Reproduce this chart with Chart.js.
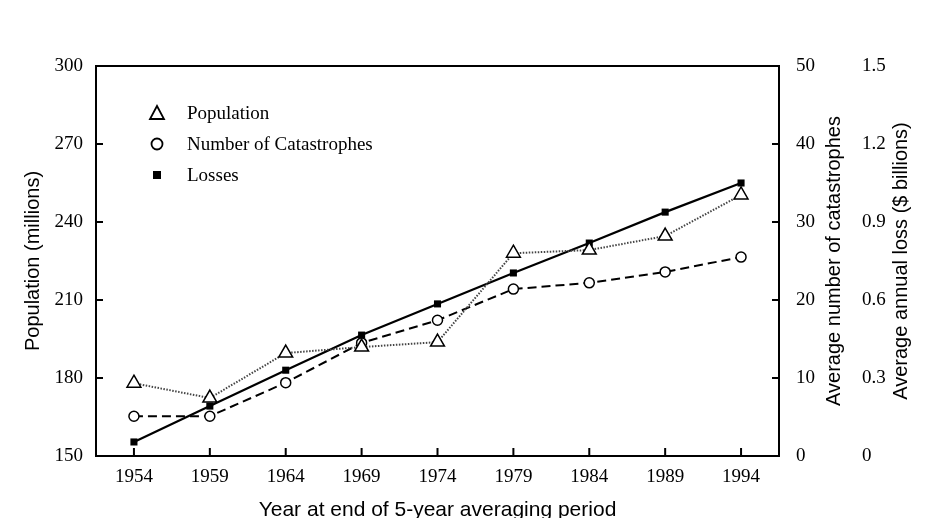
<!DOCTYPE html>
<html lang="en">
<head>
    <meta charset="UTF-8">
    <title>Population, catastrophes and losses</title>
    <style>
        body { margin: 0; background: #fff; }
        #wrap { width: 925px; height: 518px; }
    </style>
</head>
<body>
    <div id="wrap">
        <canvas id="myChart" width="925" height="518"></canvas>
    </div>
    <script src="https://cdn.jsdelivr.net/npm/chart.js@4.4.0/dist/chart.umd.min.js"></script>
    <script>
        // dados
        const anos = ['1954', '1959', '1964', '1969', '1974', '1979', '1984', '1989', '1994'];
        const populacao = [178, 172.3, 189.6, 191.9, 193.8, 228, 229.2, 234.6, 250.4];
        const catastrofes = [5.1, 5.1, 9.4, 14.5, 17.4, 21.4, 22.2, 23.6, 25.5];
        const perdas = [0.054, 0.192, 0.33, 0.465, 0.585, 0.704, 0.819, 0.938, 1.05];

        const legendaNomes = ['Population', 'Number of Catastrophes', 'Losses'];

        const SERIF = "'Liberation Serif', 'Times New Roman', serif";
        const SANS = "'Liberation Sans', Arial, sans-serif";

        // moldura, marcas de escala internas, títulos da direita e legenda
        const extras = {
            id: 'extras',
            afterDraw(chart) {
                const ctx = chart.ctx;
                const a = chart.chartArea;
                const sx = chart.scales.x, sy = chart.scales.y, sy2 = chart.scales.y2;

                ctx.save();
                ctx.strokeStyle = '#000';
                ctx.lineWidth = 2;
                ctx.strokeRect(a.left, a.top, a.right - a.left, a.bottom - a.top);

                ctx.beginPath();
                for (let i = 0; i < sx.ticks.length; i++) {
                    const px = sx.getPixelForTick(i);
                    ctx.moveTo(px, a.bottom);
                    ctx.lineTo(px, a.bottom - 8);
                }
                for (let i = 0; i < sy.ticks.length; i++) {
                    const py = sy.getPixelForTick(i);
                    ctx.moveTo(a.left, py);
                    ctx.lineTo(a.left + 7, py);
                }
                for (let i = 0; i < sy2.ticks.length; i++) {
                    const py = sy2.getPixelForTick(i);
                    ctx.moveTo(a.right, py);
                    ctx.lineTo(a.right - 7, py);
                }
                ctx.stroke();

                // títulos dos eixos da direita (lidos de baixo para cima)
                const meioY = (a.top + a.bottom) / 2;
                ctx.fillStyle = '#000';
                ctx.font = '20px ' + SANS;
                ctx.textAlign = 'center';
                ctx.textBaseline = 'middle';
                const titulos = [
                    ['Average number of catastrophes', 834],
                    ['Average annual loss ($ billions)', 901]
                ];
                titulos.forEach(function (t) {
                    ctx.save();
                    ctx.translate(t[1], meioY);
                    ctx.rotate(-Math.PI / 2);
                    ctx.fillText(t[0], 0, 0);
                    ctx.restore();
                });

                // legenda dentro do gráfico
                const lx = a.left + 61;
                const ly = a.top + 47;
                const passo = 31;
                ctx.lineWidth = 1.8;

                // triângulo
                ctx.beginPath();
                ctx.moveTo(lx, ly - 7);
                ctx.lineTo(lx + 7, ly + 6);
                ctx.lineTo(lx - 7, ly + 6);
                ctx.closePath();
                ctx.stroke();

                // círculo
                ctx.beginPath();
                ctx.arc(lx, ly + passo, 5.5, 0, Math.PI * 2);
                ctx.stroke();

                // quadrado
                ctx.fillRect(lx - 4, ly + 2 * passo - 4, 8, 8);

                ctx.font = '19px ' + SERIF;
                ctx.textAlign = 'left';
                for (let i = 0; i < legendaNomes.length; i++) {
                    ctx.fillText(legendaNomes[i], lx + 30, ly + i * passo + 1);
                }
                ctx.restore();
            }
        };

        const ctx = document.getElementById('myChart');

        new Chart(ctx, {
            type: 'line',
            data: {
                labels: anos,
                datasets: [{
                    label: legendaNomes[0],
                    data: populacao,
                    yAxisID: 'y',
                    borderColor: '#444',
                    borderWidth: 2,
                    borderDash: [1.5, 1.5],
                    pointStyle: 'triangle',
                    pointRadius: 8,
                    pointBorderWidth: 1.5,
                    pointBorderColor: '#000',
                    pointBackgroundColor: '#fff',
                    tension: 0
                }, {
                    label: legendaNomes[1],
                    data: catastrofes,
                    yAxisID: 'y2',
                    borderColor: '#000',
                    borderWidth: 2,
                    borderDash: [9, 5],
                    pointStyle: 'circle',
                    pointRadius: 5,
                    pointBorderWidth: 1.5,
                    pointBorderColor: '#000',
                    pointBackgroundColor: '#fff',
                    tension: 0
                }, {
                    label: legendaNomes[2],
                    data: perdas,
                    yAxisID: 'y3',
                    borderColor: '#000',
                    borderWidth: 2.2,
                    pointStyle: 'rect',
                    pointRadius: 5,
                    pointBorderWidth: 0,
                    pointBackgroundColor: '#000',
                    tension: 0
                }]
            },
            options: {
                responsive: false,
                animation: false,
                devicePixelRatio: 1,
                layout: { padding: { top: 66, left: 0, right: 0, bottom: 0 } },
                plugins: {
                    legend: { display: false },
                    tooltip: { enabled: false }
                },
                scales: {
                    x: {
                        offset: true,
                        grid: { display: false, drawTicks: false },
                        border: { display: false },
                        ticks: { color: '#000', padding: 10, font: { family: SERIF, size: 19 } },
                        title: {
                            display: true,
                            text: 'Year at end of 5-year averaging period',
                            color: '#000',
                            font: { family: SANS, size: 21, lineHeight: 1 },
                            padding: { top: 0, bottom: -3 }
                        },
                        afterFit: function (s) { s.height = 62; }
                    },
                    y: {
                        position: 'left',
                        min: 150,
                        max: 300,
                        grid: { display: false, drawTicks: false },
                        border: { display: false },
                        ticks: { stepSize: 30, color: '#000', padding: 13, font: { family: SERIF, size: 19 } },
                        title: {
                            display: true,
                            text: 'Population (millions)',
                            color: '#000',
                            font: { family: SANS, size: 20, lineHeight: 1 },
                            padding: { top: 23, bottom: 0 }
                        },
                        afterFit: function (s) { s.width = 96; }
                    },
                    y2: {
                        position: 'right',
                        min: 0,
                        max: 50,
                        grid: { display: false, drawTicks: false },
                        border: { display: false },
                        ticks: { stepSize: 10, color: '#000', padding: 17, font: { family: SERIF, size: 19 } },
                        afterFit: function (s) { s.width = 75; }
                    },
                    y3: {
                        position: 'right',
                        min: 0,
                        max: 1.5,
                        grid: { display: false, drawTicks: false },
                        border: { display: false },
                        ticks: {
                            stepSize: 0.3,
                            color: '#000',
                            padding: 8,
                            font: { family: SERIF, size: 19 },
                            callback: function (v) { return v === 0 ? '0' : Number(v).toFixed(1); }
                        },
                        afterFit: function (s) { s.width = 71; }
                    }
                }
            },
            plugins: [extras]
        });
    </script>
</body>
</html>
